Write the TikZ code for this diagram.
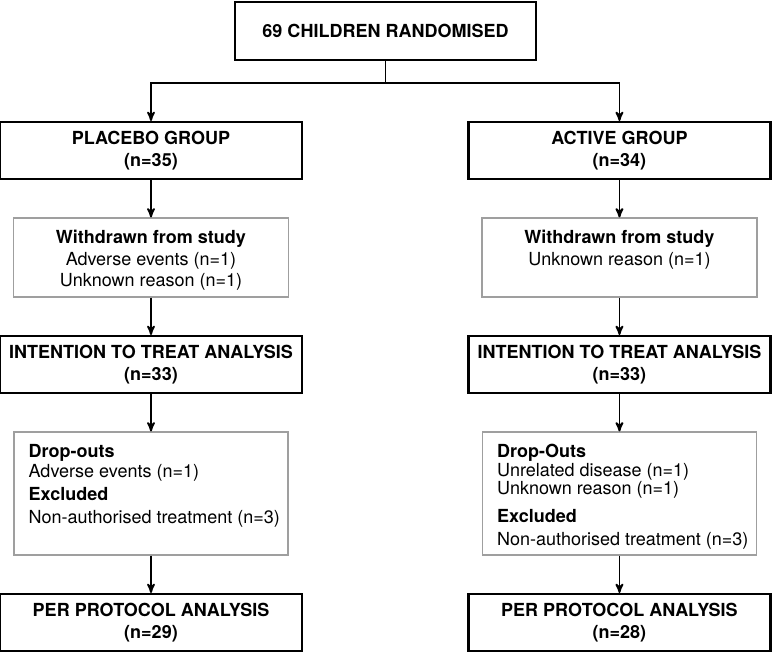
\documentclass[tikz,border=0pt]{standalone}
\usepackage{fontspec}
\setmainfont{TeX Gyre Heros}
\usetikzlibrary{arrows,positioning}
\tikzset{
	every node/.style={
		font=\fontsize{13.5}{16.5}\selectfont
	},
	stage/.style={
		shape=rectangle,
		minimum width=226.5pt,
		minimum height=42.75pt,
		align=center,
		line width=1.6pt,
		draw,
		font=\fontsize{13.5}{16.5}\selectfont\bfseries
	},
	note/.style={
		shape=rectangle,
		draw=gray!75,
		line width=0.9pt,
		inner xsep=4pt,
		inner ysep=9pt
	},
	flow/.style={
		->,
		line width=1.4pt
	}
}
% top-aligned text inside the thin boxes
\newcommand{\withdrawntext}[1]{%
	\begin{minipage}[c][41.25pt][t]{198.25pt}
		\centering\fontsize{13.5}{16.3}\selectfont #1
	\end{minipage}}
\newcommand{\droptext}[1]{%
	\begin{minipage}[c][74.25pt][t]{197.5pt}
		\raggedright\leftskip=7pt\fontsize{13.5}{14}\selectfont #1
	\end{minipage}}

\begin{document}
\begin{tikzpicture}[>=stealth',node distance=28pt,semithick]
  \useasboundingbox (0,0) rectangle (579pt,-490.5pt);

  \node[stage, minimum width=225.75pt, minimum height=43.5pt] (rand) at (289.1pt,-23.25pt) {69 CHILDREN RANDOMISED};
  \coordinate (split) at ([yshift=-16.5pt]rand.south);

  % placebo side
  \node[stage] (pg) at (113.25pt,-112.9pt) {PLACEBO GROUP\\(n=35)};
  \node[note]  (pw) [below=of pg] {\withdrawntext{\textbf{Withdrawn from study}\\Adverse events (n=1)\\Unknown reason (n=1)}};
  \node[stage] (pi) [below=of pw] {INTENTION TO TREAT ANALYSIS\\(n=33)};
  \node[note]  (pd) [below=of pi] {\droptext{\textbf{Drop-outs}\\[1.5pt]Adverse events (n=1)\\[3pt]\textbf{Excluded}\\[3pt]Non-authorised treatment (n=3)}};
  \node[stage] (pp) [below=of pd] {PER PROTOCOL ANALYSIS\\(n=29)};

  % active side
  \node[stage] (ag) at (464.6pt,-112.9pt) {ACTIVE GROUP\\(n=34)};
  \node[note]  (aw) [below=of ag] {\withdrawntext{\textbf{Withdrawn from study}\\Unknown reason (n=1)}};
  \node[stage] (ai) [below=of aw] {INTENTION TO TREAT ANALYSIS\\(n=33)};
  \node[note]  (ad) [below=of ai] {\droptext{\textbf{Drop-Outs}\\Unrelated disease (n=1)\\Unknown reason (n=1)\\[7pt]\textbf{Excluded}\\[3pt]Non-authorised treatment (n=3)}};
  \node[stage] (ap) [below=of ad] {PER PROTOCOL ANALYSIS\\(n=28)};

  \draw[line width=1.4pt] (rand) -- (split);
  \draw[flow] (split) -| (pg);
  \draw[flow] (split) -| (ag);

  \draw[flow] (pg) -- (pw);
  \draw[flow] (pw) -- (pi);
  \draw[flow] (pi) -- (pd);
  \draw[flow] (pd) -- (pp);

  \draw[flow] (ag) -- (aw);
  \draw[flow] (aw) -- (ai);
  \draw[flow] (ai) -- (ad);
  \draw[flow] (ad) -- (ap);
\end{tikzpicture}
\end{document}
